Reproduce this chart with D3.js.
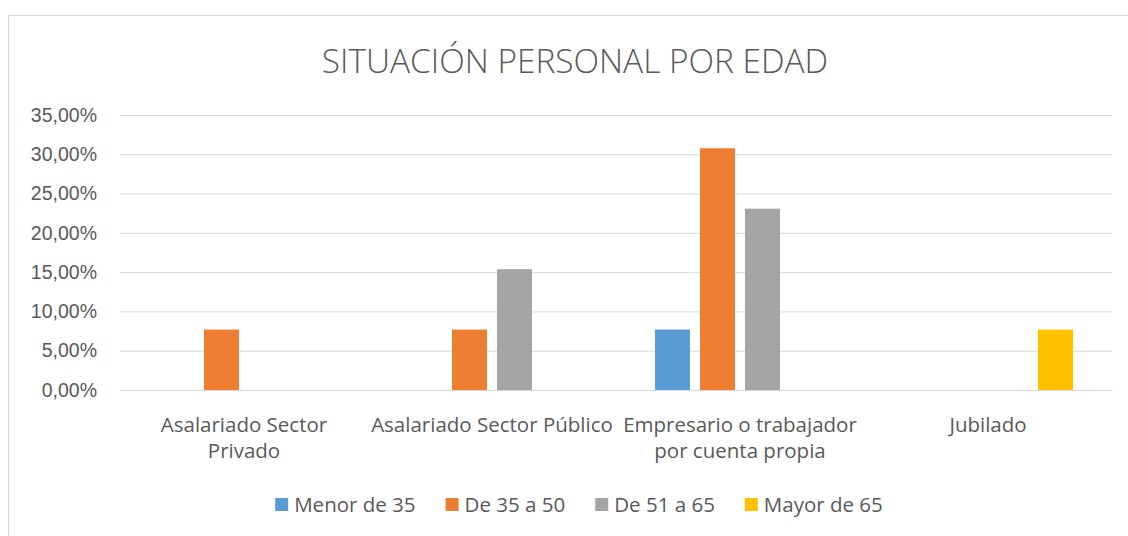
<!DOCTYPE html>
<html>
<head>
<meta charset="utf-8">
<script src="https://cdn.jsdelivr.net/npm/d3@7"></script>
<style>
  body { margin: 0; background: #fff; }
  svg { display: block; font-family: "Open Sans", "Noto Sans", sans-serif; }
</style>
</head>
<body>
<svg width="1128" height="536"></svg>
<script>
var categories = ["Asalariado Sector Privado", "Asalariado Sector Público", "Empresario o trabajador por cuenta propia", "Jubilado"];
var categoryLines = [["Asalariado Sector", "Privado"], ["Asalariado Sector Público"], ["Empresario o trabajador", "por cuenta propia"], ["Jubilado"]];
var seriesNames = ["Menor de 35", "De 35 a 50", "De 51 a 65", "Mayor de 65"];
var menor35 = [0, 0, 0.0769, 0];
var de35a50 = [0.0769, 0.0769, 0.3077, 0];
var de51a65 = [0, 0.1538, 0.2308, 0];
var mayor65 = [0, 0, 0, 0.0769];
var yTicks = [0, 0.05, 0.10, 0.15, 0.20, 0.25, 0.30, 0.35];
var colors = ["#5B9BD5", "#ED7D31", "#A5A5A5", "#FFC000"];

var seriesValues = [menor35, de35a50, de51a65, mayor65];
var data = categories.map(function (c, i) {
    return { cat: c, values: seriesNames.map(function (s, j) { return { name: s, value: seriesValues[j][i] }; }) };
});

var svg = d3.select("svg"),
    margin = { top: 115, right: 16, bottom: 146, left: 120 },
    width = +svg.attr("width") - margin.left - margin.right,
    height = +svg.attr("height") - margin.top - margin.bottom;

var textColor = "#595959";

// chart area border
svg.append("rect")
    .attr("x", 8.5).attr("y", 15.5)
    .attr("width", 1140).attr("height", 560)
    .attr("fill", "none").attr("stroke", "#D9D9D9");

var locale = d3.formatLocale({ decimal: ",", thousands: ".", grouping: [3], currency: ["", "€"] });
var pct = locale.format(".2%");

var x0 = d3.scaleBand().domain(categories).range([0, width]);
var x1 = d3.scaleBand().domain(seriesNames).range([39, x0.bandwidth() - 39]).paddingInner(10 / 45);
var y = d3.scaleLinear().domain([0, 0.35]).range([height, 0]);

var g = svg.append("g")
    .attr("transform", "translate(" + margin.left + "," + margin.top + ")");

g.append("g")
    .attr("class", "grid")
    .call(d3.axisLeft(y).tickValues(yTicks).tickSize(-width).tickFormat(""))
    .call(function (s) { s.select(".domain").remove(); })
    .selectAll("line").attr("stroke", "#D9D9D9").attr("stroke-width", 1);

g.append("g")
    .call(d3.axisLeft(y).tickValues(yTicks).tickSize(0).tickPadding(23).tickFormat(pct))
    .call(function (s) { s.select(".domain").remove(); })
    .selectAll("text")
    .attr("fill", textColor)
    .style("font-size", "19.5px");

var groups = g.selectAll(".cat")
    .data(data)
    .enter().append("g")
    .attr("class", "cat")
    .attr("transform", function (d) { return "translate(" + x0(d.cat) + ",0)"; });

groups.selectAll("rect")
    .data(function (d) { return d.values.filter(function (v) { return v.value > 0; }); })
    .enter().append("rect")
    .attr("x", function (d) { return x1(d.name); })
    .attr("y", function (d) { return y(d.value); })
    .attr("width", x1.bandwidth())
    .attr("height", function (d) { return height - y(d.value); })
    .attr("fill", function (d) { return colors[seriesNames.indexOf(d.name)]; });

// category labels
var xAxis = g.append("g")
    .attr("transform", "translate(0," + height + ")")
    .call(d3.axisBottom(x0).tickSize(0).tickFormat(""));
xAxis.select(".domain").attr("stroke", "#D9D9D9");

categories.forEach(function (c, i) {
    categoryLines[i].forEach(function (line, k) {
        g.append("text")
            .attr("x", x0(c) + x0.bandwidth() / 2)
            .attr("y", height + 42 + k * 26)
            .attr("text-anchor", "middle")
            .attr("fill", textColor)
            .style("font-size", "20.5px")
            .text(line);
    });
});

// title
svg.append("text")
    .attr("x", 575)
    .attr("y", 73)
    .attr("text-anchor", "middle")
    .attr("fill", textColor)
    .style("font-size", "33.4px")
    .style("font-weight", 300)
    .text("SITUACIÓN PERSONAL POR EDAD");

// legend
var legend = svg.append("g").attr("transform", "translate(0,505)");
var items = legend.selectAll(".item")
    .data(seriesNames)
    .enter().append("g")
    .attr("class", "item");
items.append("rect")
    .attr("x", 0).attr("y", -7)
    .attr("width", 13).attr("height", 13)
    .attr("fill", function (d, i) { return colors[i]; });
items.append("text")
    .attr("x", 19).attr("y", 7)
    .attr("fill", textColor)
    .style("font-size", "20.5px")
    .text(function (d) { return d; });

var widths = [];
items.each(function () { widths.push(this.getBBox().width); });
var total = d3.sum(widths) + 30 * (widths.length - 1);
var pos = 579 - total / 2;
items.attr("transform", function (d, i) {
    var p = pos;
    pos += widths[i] + 30;
    return "translate(" + p + ",0)";
});
</script>
</body>
</html>
